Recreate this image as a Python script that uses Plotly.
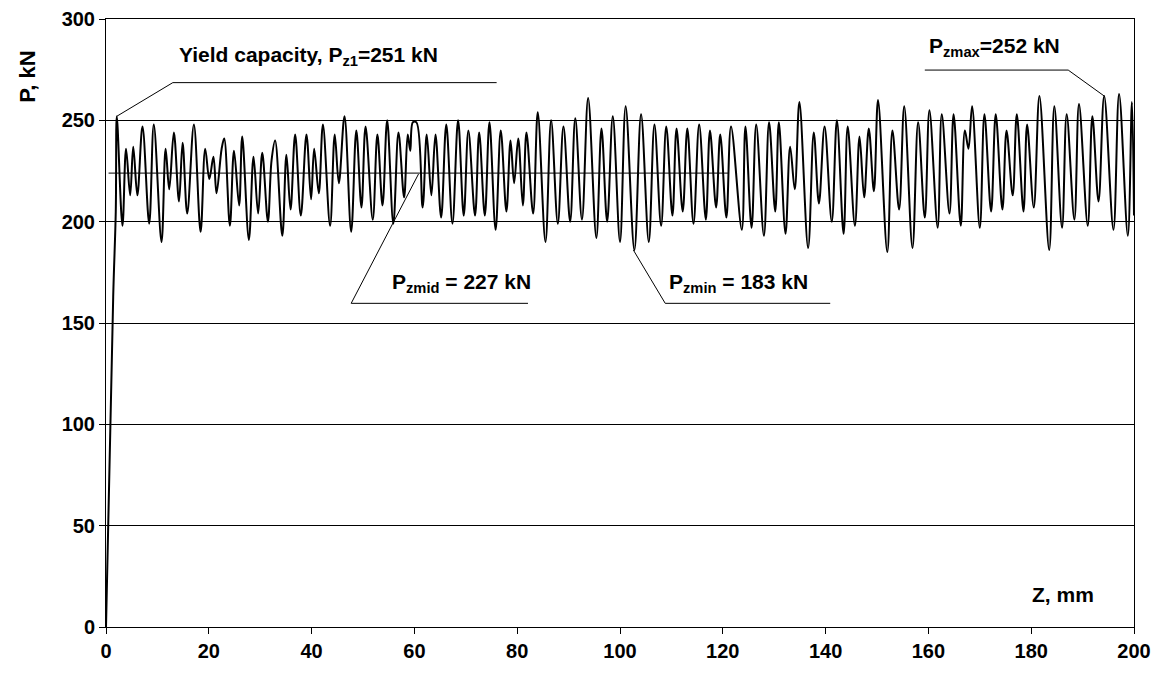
import plotly.graph_objects as go

# Displacement Z (mm) and load P (kN) (peaks/troughs)
z_mm = [0, 1.4, 1.9, 2.1, 3.2, 3.9, 4.7, 5.3, 6.1, 7.1,
        8.4, 9.3, 10.8, 11.6, 12.3, 13.2, 14.2, 14.9, 15.8, 17.1,
        18.4, 19.3, 20.1, 20.9, 21.5, 22.5, 23.0, 24.1, 24.9, 25.9,
        26.5, 27.8, 28.7, 29.6, 30.4, 31.5, 32.2, 32.9, 34.3, 35.1,
        35.9, 36.8, 37.9, 39.0, 39.9, 40.5, 41.4, 42.2, 43.6, 44.5,
        45.3, 46.4, 47.7, 48.7, 49.7, 50.5, 51.9, 52.8, 53.8, 54.7,
        55.9, 56.9, 58.0, 58.7, 59.2, 59.7, 60.4, 61.6, 62.4, 63.3,
        64.1, 65.2, 66.2, 67.4, 68.5, 69.6, 70.5, 71.8, 72.6, 73.7,
        74.6, 75.8, 76.8, 77.9, 78.7, 79.4, 80.2, 81.1, 81.8, 83.1,
        84.0, 85.5, 86.6, 87.9, 89.0, 90.3, 91.3, 92.6, 93.8, 95.4,
        96.4, 97.5, 98.6, 100.0, 101.1, 102.8, 104.1, 105.6, 106.7, 108.0,
        109.0, 110.2, 111.0, 112.2, 113.1, 114.3, 115.4, 116.7, 117.5, 118.7,
        119.5, 120.7, 121.6, 123.7, 124.4, 125.6, 126.5, 128.0, 129.0, 130.2,
        130.9, 132.2, 133.1, 134.0, 134.9, 136.6, 137.7, 138.7, 139.8, 141.2,
        142.2, 143.5, 144.3, 145.7, 146.6, 147.5, 148.4, 149.4, 150.2, 152.0,
        153.0, 154.3, 155.3, 156.9, 158.0, 159.3, 160.2, 161.8, 162.6, 164.1,
        164.9, 166.3, 167.1, 167.8, 168.5, 170.0, 170.9, 172.2, 173.1, 174.4,
        175.2, 176.4, 177.2, 178.5, 179.2, 180.5, 181.6, 183.5, 184.5, 186.0,
        186.9, 188.4, 189.3, 191.0, 191.9, 193.1, 194.2, 196.0, 197.1, 198.8,
        199.6, 200.0]

p_kn = [0, 163, 205, 252, 198, 236, 213, 237, 213, 247,
        199, 248, 190, 236, 216, 244, 210, 239, 204, 248,
        195, 236, 221, 232, 214, 236, 241, 198, 235, 208,
        242, 191, 232, 204, 234, 200, 230, 240, 193, 233,
        206, 243, 203, 243, 211, 236, 214, 248, 198, 243,
        219, 252, 195, 245, 207, 247, 201, 243, 208, 250,
        199, 244, 212, 243, 235, 249, 249, 207, 243, 213,
        243, 202, 248, 199, 250, 203, 245, 203, 244, 203,
        249, 196, 245, 205, 240, 219, 241, 208, 244, 204,
        254, 190, 250, 199, 247, 200, 251, 201, 261, 192,
        246, 200, 252, 190, 257, 186, 253, 190, 248, 198,
        247, 203, 246, 205, 246, 199, 248, 201, 245, 207,
        243, 202, 247, 196, 247, 197, 248, 193, 249, 205,
        249, 194, 237, 216, 259, 187, 244, 209, 247, 200,
        250, 194, 247, 198, 242, 212, 246, 215, 260, 185,
        245, 206, 257, 187, 249, 202, 255, 197, 253, 204,
        253, 198, 245, 236, 257, 197, 253, 205, 253, 206,
        245, 213, 253, 205, 248, 207, 262, 186, 257, 197,
        253, 201, 258, 198, 252, 210, 262, 196, 263, 193,
        259, 203]

# Mean load reference line
mean_z = [0.5, 121]
mean_p = [224, 224]

x_ticks = [0, 20, 40, 60, 80, 100, 120, 140, 160, 180, 200]
y_ticks = [0, 50, 100, 150, 200, 250, 300]

FONT = "Liberation Sans, Arial, sans-serif"

fig = go.Figure()
fig.add_trace(go.Scatter(x=mean_z, y=mean_p, mode="lines",
                         line=dict(color="#333333", width=1.2),
                         showlegend=False, hoverinfo="skip"))
fig.add_trace(go.Scatter(x=z_mm, y=p_kn, mode="lines",
                         line=dict(color="black", width=2, shape="spline", smoothing=1.0),
                         showlegend=False))

# annotation leader lines (data coordinates)
leaders = [
    ([2.1, 13.0, 76.0], [252, 268.6, 268.6]),        # yield capacity
    ([159.3, 187.2, 194.2], [274.8, 274.8, 262]),    # Pzmax
    ([60.8, 47.7, 82.1], [223.5, 159.7, 159.7]),     # Pzmid
    ([102.6, 108.8, 140.9], [186, 159.7, 159.7]),    # Pzmin
]
for lx, ly in leaders:
    fig.add_trace(go.Scatter(x=lx, y=ly, mode="lines",
                             line=dict(color="black", width=1),
                             showlegend=False, hoverinfo="skip"))

ann_font = dict(family=FONT, size=21, color="black", weight="bold")
texts = [
    (13.8, 281.5, "Yield capacity, P<sub>z1</sub>=251 kN"),
    (159.7, 286, "P<sub>zmax</sub>=252 kN"),
    (55.3, 169.5, "P<sub>zmid</sub> = 227 kN"),
    (109.1, 169.5, "P<sub>zmin</sub> = 183 kN"),
    (179.8, 16, "Z, mm"),
]
for tx, ty, t in texts:
    fig.add_annotation(x=tx, y=ty, text=t, showarrow=False, xanchor="left",
                       yanchor="middle", font=ann_font)

fig.add_annotation(xref="paper", yref="paper", x=-0.076, y=0.905, text="P, kN",
                   textangle=-90, showarrow=False, xanchor="center", yanchor="middle",
                   font=dict(family=FONT, size=22, color="black", weight="bold"))

tick_font = dict(family=FONT, size=20, color="black", weight="bold")

fig.update_layout(
    width=1152, height=657,
    margin=dict(l=98, r=26, t=11, b=38),
    paper_bgcolor="white", plot_bgcolor="white",
    font=dict(family=FONT, size=20, color="black", weight="bold"),
    showlegend=False,
)
fig.update_xaxes(range=[0, 200], tickvals=x_ticks, showgrid=False, zeroline=False,
                 showline=True, linecolor="black", linewidth=1, mirror=True,
                 ticks="outside", ticklen=6, tickcolor="black", tickfont=tick_font,
                 automargin=False)
fig.update_yaxes(range=[0, 300], tickvals=y_ticks, showgrid=True, gridcolor="black",
                 gridwidth=1, zeroline=False,
                 showline=True, linecolor="black", linewidth=1, mirror=True,
                 ticks="outside", ticklen=6, tickcolor="black", tickfont=tick_font,
                 automargin=False)

fig.write_html("out.html")
